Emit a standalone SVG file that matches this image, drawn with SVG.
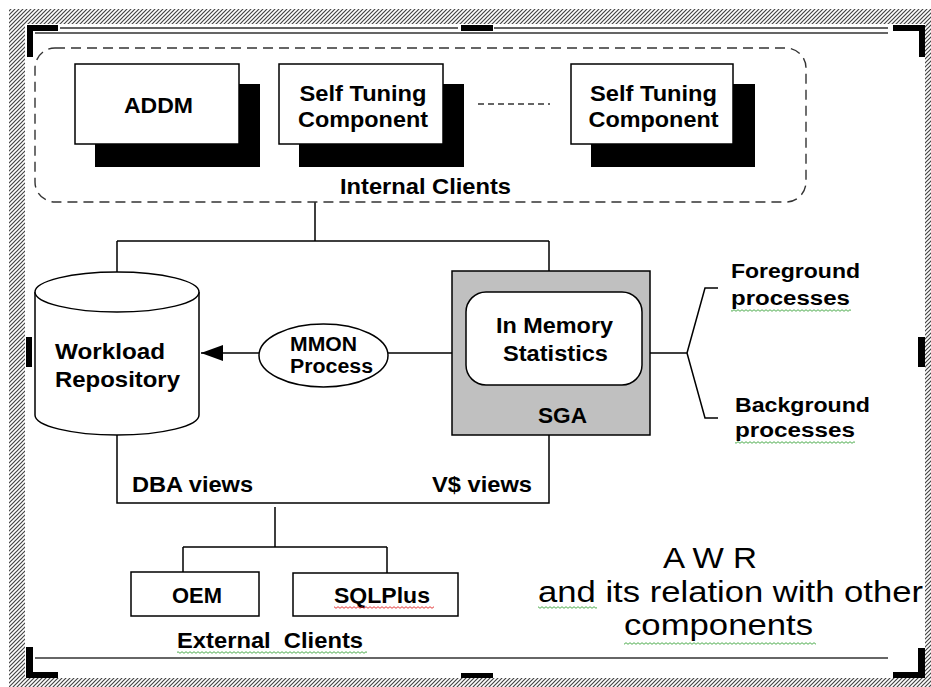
<svg xmlns="http://www.w3.org/2000/svg" width="931" height="687" viewBox="0 0 931 687">
<style>
text{font-family:"Liberation Sans",Arial,sans-serif;font-weight:bold;fill:#000}
.t22{font-size:22px}
.t20{font-size:20px}
.big{font-size:30px;font-weight:normal}
.ln{fill:none;stroke:#000;stroke-width:1.5}
.box{fill:#fff;stroke:#000;stroke-width:1.5}
.sh{fill:#000}
.blk{fill:#000}
</style>
<defs>
<pattern id="hatch" width="4" height="4" patternUnits="userSpaceOnUse">
<rect width="4" height="4" fill="#fff"/>
<path d="M-1,1 L1,-1 M0,4 L4,0 M3,5 L5,3" stroke="#444" stroke-width="1.2"/>
</pattern>
<pattern id="sqg" width="4" height="3" patternUnits="userSpaceOnUse">
<path d="M0,2.3 L2,0.7 L4,2.3" fill="none" stroke="#3aa33a" stroke-width="0.9"/>
</pattern>
<pattern id="sqr" width="4" height="3" patternUnits="userSpaceOnUse">
<path d="M0,2.3 L2,0.7 L4,2.3" fill="none" stroke="#e02020" stroke-width="0.9"/>
</pattern>
<marker id="arr" markerWidth="22" markerHeight="16" refX="22" refY="8" orient="auto" markerUnits="userSpaceOnUse">
<path d="M0,0 L22,8 L0,16 Z" fill="#000"/>
</marker>
</defs>
<rect width="931" height="687" fill="#fff"/>
<g id="frame">
<path d="M9,9 H931 V687 H9 Z M25,24 V678 H925 V24 Z" fill="url(#hatch)" fill-rule="evenodd"/>
<path d="M60,28 H458 M494,28 H888 M35,33 H888" stroke="#333" stroke-width="1.5" fill="none"/>
<path d="M35,658 H888" stroke="#333" stroke-width="1.5" fill="none"/>
<path class="blk" d="M27,25 H58 V31 H33 V57 H27 Z"/>
<path class="blk" d="M893,25 H925 V57 H919 V31 H893 Z"/>
<path class="blk" d="M26,647 H33 V672 H58 V678 H26 Z"/>
<path class="blk" d="M918,648 H925 V678 H893 V672 H918 Z"/>
<rect class="blk" x="461" y="25" width="32" height="6"/>
<rect class="blk" x="461" y="673" width="32" height="5"/>
<rect class="blk" x="26" y="337" width="6" height="30"/>
<rect class="blk" x="918" y="337" width="7" height="30"/>
</g>
<g id="connectors">
<path class="ln" d="M315,202 V241 M117,241 H549 M117,241 V272 M549,241 V271"/>
<path class="ln" d="M259,353 H201" marker-end="url(#arr)"/>
<path class="ln" d="M388,353 H452"/>
<path class="ln" d="M650,353 H687 M718,288 H705 L687,353 L705,418 H718"/>
<path class="ln" d="M117,435 V503 H549 V435"/>
<path class="ln" d="M275,507 V547 M183,547 H387 M183,547 V572 M387,547 V573"/>
<path d="M478,104 H550" stroke="#333" stroke-width="1.5" stroke-dasharray="6,4"/>
</g>
<g id="internal-clients">
<rect x="35" y="48" width="771" height="154" rx="20" fill="none" stroke="#333" stroke-width="1.4" stroke-dasharray="10,6"/>
<text class="t22" x="425.5" y="194" text-anchor="middle" textLength="171" lengthAdjust="spacingAndGlyphs">Internal Clients</text>
</g>
<g id="addm">
<rect class="sh" x="95" y="84" width="165" height="83"/>
<rect class="box" x="75" y="64" width="164" height="80"/>
<text class="t22" x="158.5" y="113" text-anchor="middle" textLength="69" lengthAdjust="spacingAndGlyphs">ADDM</text>
</g>
<g id="self-tuning-1">
<rect class="sh" x="299" y="84" width="165" height="83"/>
<rect class="box" x="279" y="64" width="164" height="80"/>
<text class="t22" x="363" y="101" text-anchor="middle" textLength="127" lengthAdjust="spacingAndGlyphs">Self Tuning</text>
<text class="t22" x="363" y="127" text-anchor="middle" textLength="130" lengthAdjust="spacingAndGlyphs">Component</text>
</g>
<g id="self-tuning-2">
<rect class="sh" x="591" y="84" width="164" height="83"/>
<rect class="box" x="571" y="64" width="162" height="80"/>
<text class="t22" x="653.5" y="101" text-anchor="middle" textLength="127" lengthAdjust="spacingAndGlyphs">Self Tuning</text>
<text class="t22" x="653.5" y="127" text-anchor="middle" textLength="130" lengthAdjust="spacingAndGlyphs">Component</text>
</g>
<g id="workload-repository">
<path class="box" d="M35,292 V415 A82,20 0 0 0 199,415 V292"/>
<ellipse class="box" cx="117" cy="292" rx="82" ry="20"/>
<text class="t22" x="55" y="359" textLength="110" lengthAdjust="spacingAndGlyphs">Workload</text>
<text class="t22" x="55" y="387" textLength="125" lengthAdjust="spacingAndGlyphs">Repository</text>
</g>
<g id="mmon">
<ellipse class="box" cx="323.5" cy="355.5" rx="64.5" ry="31.5"/>
<text class="t20" x="323.5" y="351" text-anchor="middle" textLength="67" lengthAdjust="spacingAndGlyphs">MMON</text>
<text class="t20" x="331.5" y="373" text-anchor="middle" textLength="83" lengthAdjust="spacingAndGlyphs">Process</text>
</g>
<g id="sga">
<rect x="452" y="271" width="198" height="164" fill="#c0c0c0" stroke="#000" stroke-width="1.5"/>
<rect class="box" x="466" y="292" width="176" height="93" rx="20"/>
<text class="t22" x="554.5" y="333" text-anchor="middle" textLength="117" lengthAdjust="spacingAndGlyphs">In Memory</text>
<text class="t22" x="555.5" y="361" text-anchor="middle" textLength="105" lengthAdjust="spacingAndGlyphs">Statistics</text>
<text class="t22" x="562.5" y="423" text-anchor="middle" textLength="49" lengthAdjust="spacingAndGlyphs">SGA</text>
</g>
<g id="foreground">
<text class="t20" x="731" y="278" textLength="129" lengthAdjust="spacingAndGlyphs">Foreground</text>
<text class="t20" x="731" y="305" textLength="119" lengthAdjust="spacingAndGlyphs">processes</text>
<rect x="731" y="309" width="120" height="3" fill="url(#sqg)"/>
</g>
<g id="background">
<text class="t20" x="735" y="412" textLength="135" lengthAdjust="spacingAndGlyphs">Background</text>
<text class="t20" x="735" y="437" textLength="120" lengthAdjust="spacingAndGlyphs">processes</text>
<rect x="735" y="441" width="120" height="3" fill="url(#sqg)"/>
</g>
<g id="views">
<text class="t22" x="132" y="492" textLength="121" lengthAdjust="spacingAndGlyphs">DBA views</text>
<text class="t22" x="432" y="492" textLength="100" lengthAdjust="spacingAndGlyphs">V$ views</text>
</g>
<g id="oem">
<rect class="box" x="131" y="572" width="128" height="44"/>
<text class="t22" x="197" y="603" text-anchor="middle" textLength="50" lengthAdjust="spacingAndGlyphs">OEM</text>
</g>
<g id="sqlplus">
<rect class="box" x="293" y="573" width="165" height="43"/>
<text class="t22" x="382" y="603" text-anchor="middle" textLength="96" lengthAdjust="spacingAndGlyphs">SQLPlus</text>
<rect x="334" y="606" width="100" height="3" fill="url(#sqr)"/>
</g>
<g id="external-clients">
<text class="t22" x="177" y="648" xml:space="preserve" textLength="186" lengthAdjust="spacingAndGlyphs">External  Clients</text>
<rect x="177" y="651" width="190" height="3" fill="url(#sqg)"/>
</g>
<g id="title">
<text class="big" x="710" y="568" text-anchor="middle" textLength="94" lengthAdjust="spacingAndGlyphs">A W R</text>
<text class="big" x="538" y="602" textLength="385" lengthAdjust="spacingAndGlyphs">and its relation with other</text>
<rect x="538" y="606" width="59" height="3" fill="url(#sqg)"/>
<text class="big" x="624" y="635" textLength="189" lengthAdjust="spacingAndGlyphs">components</text>
<rect x="624" y="642" width="192" height="3" fill="url(#sqg)"/>
</g>
</svg>
